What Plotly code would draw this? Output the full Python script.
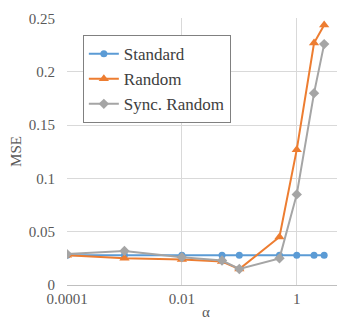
import plotly.graph_objects as go

alpha_std = [0.0001, 0.001, 0.01, 0.05, 0.1, 0.5, 1, 2, 3]
mse_std = [0.028, 0.028, 0.028, 0.028, 0.028, 0.028, 0.028, 0.028, 0.028]

alpha_rand = [0.0001, 0.001, 0.01, 0.05, 0.1, 0.5, 1, 2, 3]
mse_rand = [0.028, 0.025, 0.024, 0.022, 0.015, 0.045, 0.127, 0.227, 0.244]

alpha_sync = [0.0001, 0.001, 0.01, 0.05, 0.1, 0.5, 1, 2, 3]
mse_sync = [0.029, 0.032, 0.026, 0.023, 0.015, 0.025, 0.085, 0.180, 0.226]

x_ticks = [0.0001, 0.01, 1]
x_ticktext = ["0.0001", "0.01", "1"]
y_ticks = [0, 0.05, 0.1, 0.15, 0.2, 0.25]
y_ticktext = ["0", "0.05", "0.1", "0.15", "0.2", "0.25"]

FONT = "Times New Roman, Liberation Serif, serif"

fig = go.Figure()
fig.add_trace(go.Scatter(x=alpha_std, y=mse_std, name="Standard", mode="lines+markers",
                         line=dict(color="#5B9BD5", width=2),
                         marker=dict(symbol="circle", size=7, color="#5B9BD5"),
                         legendgroup="a"))
fig.add_trace(go.Scatter(x=alpha_rand, y=mse_rand, name="Random", mode="lines+markers",
                         line=dict(color="#ED7D31", width=2),
                         marker=dict(symbol="triangle-up", size=9, color="#ED7D31"),
                         legendgroup="b"))
fig.add_trace(go.Scatter(x=alpha_sync, y=mse_sync, name="Sync. Random", mode="lines+markers",
                         line=dict(color="#A5A5A5", width=2),
                         marker=dict(symbol="diamond", size=8, color="#A5A5A5"),
                         legendgroup="c"))

# The page body has an 8px default margin, so the figure is sized to fill the rest of the window.
fig.update_layout(
    width=337, height=313,
    margin=dict(l=59, r=0, t=10, b=36, autoexpand=False),
    paper_bgcolor="white", plot_bgcolor="white",
    font=dict(family=FONT, size=15, color="#595959"),
    showlegend=True,
    legend=dict(x=0.057, y=0.936, xanchor="left", yanchor="top",
                bgcolor="white", bordercolor="#808080", borderwidth=1,
                font=dict(family=FONT, size=17, color="#404040"),
                tracegroupgap=2, traceorder="normal"),
    xaxis=dict(type="log", range=[-4, 0.84], tickvals=x_ticks, ticktext=x_ticktext,
               showgrid=True, gridcolor="#D9D9D9", gridwidth=1,
               showline=True, linecolor="#BFBFBF", linewidth=1,
               zeroline=False, ticks="", automargin=False,
               tickfont=dict(family=FONT, size=15, color="#595959"),
               title=dict(text="α", standoff=0, font=dict(family=FONT, size=15, color="#595959"))),
    yaxis=dict(range=[0, 0.2505], tickvals=y_ticks, ticktext=y_ticktext,
               showgrid=True, gridcolor="#D9D9D9", gridwidth=1,
               showline=False, zeroline=False, ticks="", automargin=False,
               ticklabelstandoff=11,
               tickfont=dict(family=FONT, size=15, color="#595959"),
               title=dict(text="MSE", standoff=8, font=dict(family=FONT, size=15, color="#595959"))),
)

fig.write_html("out.html")
